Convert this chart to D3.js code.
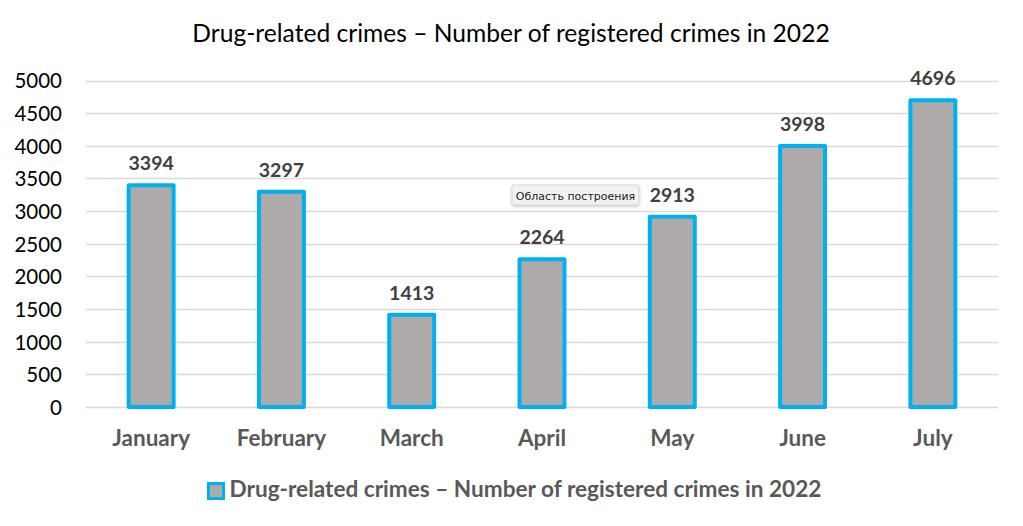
<!DOCTYPE html>
<html><head><meta charset="utf-8">
<script src="https://cdn.jsdelivr.net/npm/d3@7"></script>
<style>
body{margin:0;background:#fff;}
svg{display:block;}
</style></head>
<body>
<svg id="chart" width="1023" height="526"></svg>
<script>
const months = ["January","February","March","April","May","June","July"];
const values = [3394,3297,1413,2264,2913,3998,4696];
const yTicks = [0,500,1000,1500,2000,2500,3000,3500,4000,4500,5000];
const titleText = "Drug-related crimes – Number of registered crimes in 2022";
const legendText = "Drug-related crimes – Number of registered crimes in 2022";
const tooltipText = "Область построения";

const svg = d3.select("#chart");
const W = 1023, H = 526;
const font = "Lato, 'Open Sans', sans-serif";
const plot = {left:86, right:998, top:80.5, bottom:407};

const x = d3.scaleBand().domain(months).range([plot.left, plot.right]).paddingInner(0.655).paddingOuter(0.3275);
const y = d3.scaleLinear().domain([0,5000]).range([plot.bottom, plot.top]);

svg.append("rect").attr("width",W).attr("height",H).attr("fill","#fff");

// title
svg.append("text").attr("x",511).attr("y",42).attr("text-anchor","middle")
  .attr("font-family",font).attr("font-size",24.6).attr("fill","#000").text(titleText);

// gridlines
svg.append("g").selectAll("line").data(yTicks).join("line")
  .attr("x1",plot.left).attr("x2",plot.right)
  .attr("y1",d=>Math.round(y(d))+0.5).attr("y2",d=>Math.round(y(d))+0.5)
  .attr("stroke","#d9d9d9").attr("stroke-width",1.5);

// y axis labels
const yAxis = d3.axisLeft(y).tickValues(yTicks).tickFormat(d3.format("d")).tickSize(0).tickPadding(0);
const gy = svg.append("g").attr("transform",`translate(62,0)`).call(yAxis);
gy.select(".domain").remove();
gy.selectAll("text").attr("font-family",font).attr("font-size",20.5).attr("fill","#000").attr("dy","0.36em");

// bars
svg.append("g").selectAll("rect").data(values).join("rect")
  .attr("x",(d,i)=>x(months[i]))
  .attr("y",d=>y(d))
  .attr("width",x.bandwidth())
  .attr("height",d=>y(0)-y(d))
  .attr("fill","#aeaaaa").attr("stroke","#00b0f0").attr("stroke-width",4)
  .attr("stroke-linejoin","round");

// data labels
svg.append("g").selectAll("text").data(values).join("text")
  .attr("x",(d,i)=>x(months[i])+x.bandwidth()/2)
  .attr("y",d=>y(d)-15)
  .attr("text-anchor","middle").attr("font-family",font).attr("font-weight","bold")
  .attr("font-size",19.5).attr("fill","#404040").text(d=>d);

// x axis labels
const xAxis = d3.axisBottom(x).tickSize(0).tickPadding(0);
const gx = svg.append("g").attr("transform",`translate(0,${plot.bottom+39})`).call(xAxis);
gx.select(".domain").remove();
gx.selectAll("text").attr("font-family",font).attr("font-weight","bold").attr("font-size",22.5).attr("fill","#595959").attr("dy","0");

// legend
const lg = svg.append("g");
lg.append("rect").attr("x",208.5).attr("y",483.5).attr("width",15).attr("height",15)
  .attr("fill","#aeaaaa").attr("stroke","#00b0f0").attr("stroke-width",3);
lg.append("text").attr("x",229.5).attr("y",497).attr("font-family",font).attr("font-weight","bold")
  .attr("font-size",22.6).attr("fill","#595959").text(legendText);

// tooltip
const tg = svg.append("g").attr("transform","translate(512,185)");
const defs = svg.append("defs");
const f = defs.append("filter").attr("id","sh").attr("x","-20%").attr("y","-50%").attr("width","140%").attr("height","200%");
f.append("feDropShadow").attr("dx",0).attr("dy",1).attr("stdDeviation",1.5).attr("flood-color","#000").attr("flood-opacity",0.25);
tg.append("rect").attr("x",0).attr("y",0).attr("width",127).attr("height",20).attr("rx",2)
  .attr("fill","#f2f2f2").attr("stroke","#d0d0d0").attr("stroke-width",0.8).attr("filter","url(#sh)");
tg.append("text").attr("x",63.5).attr("y",14.5).attr("text-anchor","middle")
  .attr("font-family","'DejaVu Sans', sans-serif").attr("font-size",11).attr("fill","#222").text(tooltipText);
</script>
</body></html>
